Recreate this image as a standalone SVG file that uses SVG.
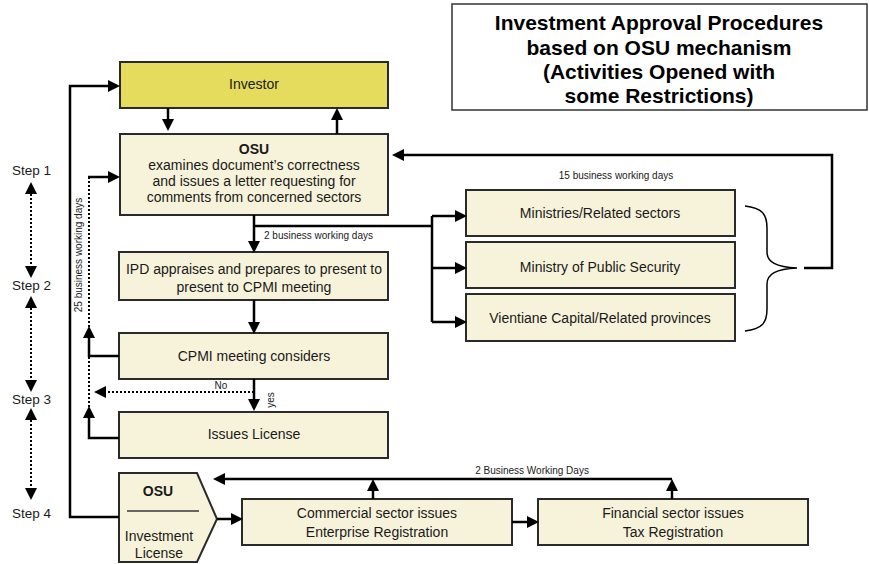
<svg xmlns="http://www.w3.org/2000/svg" width="869" height="564" viewBox="0 0 869 564">
<style>
text{font-family:"Liberation Sans",Arial,sans-serif;fill:#1a1a1a}
.box{fill:#f6f3da;stroke:#2a2a2a;stroke-width:2}
.inv{fill:#e5db5c;stroke:#2a2a2a;stroke-width:2}
.t{font-size:14px;text-anchor:middle}
.b{font-weight:bold}
.s{font-size:10px}
.c{fill:none;stroke:#000;stroke-width:2.5}
.d{fill:none;stroke:#000;stroke-width:2;stroke-dasharray:2 2}
.step{font-size:13.5px}
.title{font-size:21px;font-weight:bold;text-anchor:middle;fill:#000}
</style>
<defs>
<marker id="ah" viewBox="0 0 12 12" refX="0" refY="6" markerWidth="12" markerHeight="12" markerUnits="userSpaceOnUse" orient="auto-start-reverse">
<path d="M0,0 L12,6 L0,12 z" fill="#000"/>
</marker>
</defs>
<rect width="869" height="564" fill="#fff"/>

<g id="title">
<rect x="452" y="4" width="415" height="106" fill="#fff" stroke="#333" stroke-width="1.5"/>
<text class="title" x="659" y="30">Investment Approval Procedures</text>
<text class="title" x="659" y="55">based on OSU mechanism</text>
<text class="title" x="659" y="79">(Activities Opened with</text>
<text class="title" x="659" y="103">some Restrictions)</text>
</g>

<g id="steps">
<text class="step" x="12" y="175">Step 1</text>
<text class="step" x="12" y="290">Step 2</text>
<text class="step" x="12" y="404">Step 3</text>
<text class="step" x="12" y="518">Step 4</text>
<path class="d" d="M31,194 V266" marker-start="url(#ah)" marker-end="url(#ah)"/>
<path class="d" d="M31,308 V380" marker-start="url(#ah)" marker-end="url(#ah)"/>
<path class="d" d="M31,420 V488" marker-start="url(#ah)" marker-end="url(#ah)"/>
</g>

<g id="investor">
<rect class="inv" x="120" y="62" width="268" height="46"/>
<text class="t" x="254" y="89">Investor</text>
</g>

<g id="osu">
<rect class="box" x="120" y="134" width="268" height="81"/>
<text class="t b" x="254" y="154">OSU</text>
<text class="t" x="254" y="170">examines document’s correctness</text>
<text class="t" x="254" y="186">and issues a letter requesting for</text>
<text class="t" x="254" y="202">comments from concerned sectors</text>
</g>

<g id="ipd">
<rect class="box" x="119" y="252" width="269" height="48"/>
<text class="t" x="254" y="274">IPD appraises and prepares to present to</text>
<text class="t" x="254" y="292">present to CPMI meeting</text>
</g>

<g id="cpmi">
<rect class="box" x="119" y="333" width="269" height="46"/>
<text class="t" x="254" y="361">CPMI meeting considers</text>
</g>

<g id="license">
<rect class="box" x="119" y="412" width="269" height="46"/>
<text class="t" x="254" y="439">Issues License</text>
</g>

<g id="ministries">
<rect class="box" x="466" y="190" width="269" height="46"/>
<text class="t" x="600" y="218">Ministries/Related sectors</text>
</g>

<g id="security">
<rect class="box" x="466" y="242" width="269" height="46"/>
<text class="t" x="600" y="272">Ministry of Public Security</text>
</g>

<g id="vientiane">
<rect class="box" x="466" y="294" width="269" height="47"/>
<text class="t" x="600" y="323">Vientiane Capital/Related provinces</text>
</g>

<g id="osu-license">
<polygon class="box" points="119,473 197,473 217,519 197,562 119,562"/>
<line x1="127" y1="511" x2="199" y2="511" stroke="#666" stroke-width="2"/>
<text class="t b" x="158" y="496">OSU</text>
<text class="t" x="159" y="541">Investment</text>
<text class="t" x="159" y="558">License</text>
</g>

<g id="commercial">
<rect class="box" x="242" y="499" width="270" height="46"/>
<text class="t" x="377" y="518">Commercial sector issues</text>
<text class="t" x="377" y="537">Enterprise Registration</text>
</g>

<g id="financial">
<rect class="box" x="538" y="499" width="270" height="46"/>
<text class="t" x="673" y="518">Financial sector issues</text>
<text class="t" x="673" y="537">Tax Registration</text>
</g>

<g id="connectors">
<path class="c" d="M119,517 H70 V86 H108" marker-end="url(#ah)"/>
<path class="c" d="M168,108 V119" marker-end="url(#ah)"/>
<path class="c" d="M337,134 V120" marker-end="url(#ah)"/>
<path class="c" d="M804,268 H832 V155 H404" marker-end="url(#ah)"/>
<path d="M745,206 C762,208 767,214 767,228 L767,252 C767,262 776,267 797,268 C776,269 767,274 767,284 L767,309 C767,323 762,329 745,331" fill="none" stroke="#000" stroke-width="1.5"/>
<path class="c" d="M254,215 V241" marker-end="url(#ah)"/>
<path class="c" d="M254,226 H432"/>
<path class="c" d="M432,216 V322"/>
<path class="c" d="M432,216 H455" marker-end="url(#ah)"/>
<path class="c" d="M432,268 H455" marker-end="url(#ah)"/>
<path class="c" d="M432,322 H455" marker-end="url(#ah)"/>
<text class="s" x="264" y="239">2 business working days</text>
<text class="s" x="616" y="179" text-anchor="middle">15 business working days</text>
<path class="c" d="M254,300 V322" marker-end="url(#ah)"/>
<path class="c" d="M254,379 V399" marker-end="url(#ah)"/>
<path class="c" d="M119,356 H89 V338" marker-end="url(#ah)"/>
<path class="c" d="M119,438 H89 V418" marker-end="url(#ah)"/>
<path class="d" d="M89,407 V177"/>
<path class="c" d="M88,177 H108" marker-end="url(#ah)"/>
<text class="s" x="78" y="255" text-anchor="middle" dominant-baseline="central" transform="rotate(-90 78 255)">25 business working days</text>
<path class="d" d="M254,392 H106"/>
<path d="M106,386 L94,392 L106,398 z" fill="#000"/>
<text class="s" x="221" y="389" text-anchor="middle">No</text>
<text class="s" x="270" y="400" text-anchor="middle" dominant-baseline="central" transform="rotate(-90 270 400)">yes</text>
<path class="c" d="M217,519 H231" marker-end="url(#ah)"/>
<path class="c" d="M512,522 H527" marker-end="url(#ah)"/>
<path class="c" d="M373,499 V491" marker-end="url(#ah)"/>
<path class="c" d="M672,499 V491" marker-end="url(#ah)"/>
<path class="c" d="M672,479 H225" marker-end="url(#ah)"/>
<text class="s" x="532" y="474" text-anchor="middle">2 Business Working Days</text>
</g>
</svg>
